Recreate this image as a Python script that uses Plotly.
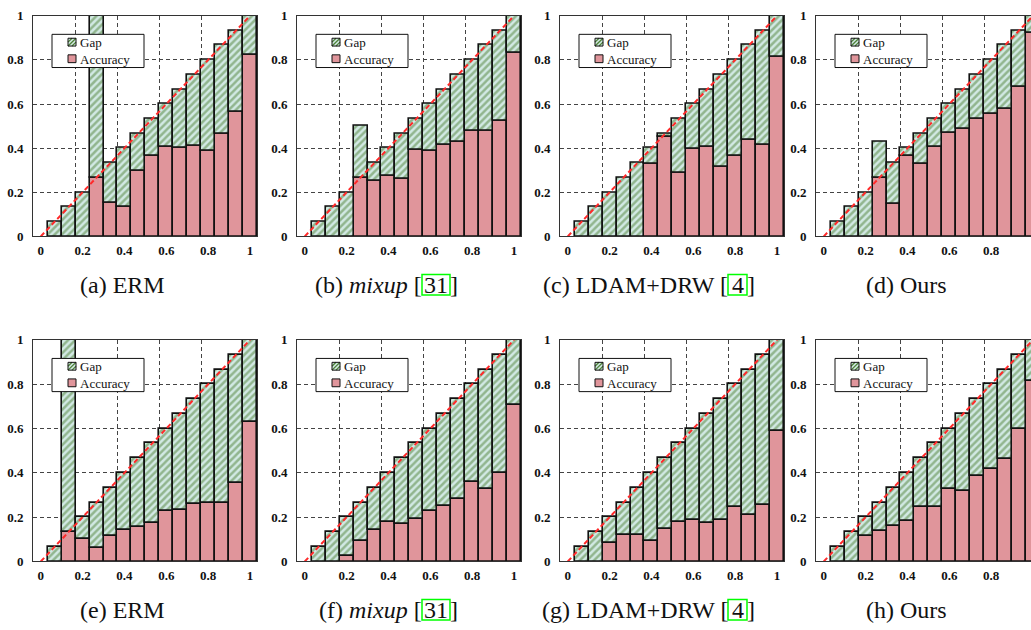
import plotly.graph_objects as go

W, H = 1031, 630

# ---------------- data ----------------
BIN_CENTERS = [0.0667, 0.1333, 0.2, 0.2667, 0.3333, 0.4, 0.4667, 0.5333,
               0.6, 0.6667, 0.7333, 0.8, 0.8667, 0.9333, 1.0]

# bar tops (outline height: confidence, or taller where the gap overshoots)
TOP_ERM_A = [0.0667, 0.1333, 0.2, 1.0, 0.3333, 0.4, 0.4667, 0.5333, 0.6, 0.6667, 0.7333, 0.8, 0.8667, 0.9333, 1.0]
TOP_MIXUP_B = [0.0667, 0.1333, 0.2, 0.5, 0.3333, 0.4, 0.4667, 0.5333, 0.6, 0.6667, 0.7333, 0.8, 0.8667, 0.9333, 1.0]
TOP_LDAM_C = [0.0667, 0.1333, 0.2, 0.2667, 0.3333, 0.4, 0.4667, 0.5333, 0.6, 0.6667, 0.7333, 0.8, 0.8667, 0.9333, 1.0]
TOP_OURS_D = [0.0667, 0.1333, 0.2, 0.43, 0.3333, 0.4, 0.4667, 0.5333, 0.6, 0.6667, 0.7333, 0.8, 0.8667, 0.9333, 1.0]
TOP_ERM_E = [0.0667, 1.0, 0.2, 0.2667, 0.3333, 0.4, 0.4667, 0.5333, 0.6, 0.6667, 0.7333, 0.8, 0.8667, 0.9333, 1.0]
TOP_MIXUP_F = [0.0667, 0.1333, 0.2, 0.2667, 0.3333, 0.4, 0.4667, 0.5333, 0.6, 0.6667, 0.7333, 0.8, 0.8667, 0.9333, 1.0]
TOP_LDAM_G = [0.0667, 0.1333, 0.2, 0.2667, 0.3333, 0.4, 0.4667, 0.5333, 0.6, 0.6667, 0.7333, 0.8, 0.8667, 0.9333, 1.0]
TOP_OURS_H = [0.0667, 0.1333, 0.2, 0.2667, 0.3333, 0.4, 0.4667, 0.5333, 0.6, 0.6667, 0.7333, 0.8, 0.8667, 0.9333, 1.0]

# accuracy per bin
ACC_ERM_A = [0, 0, 0, 0.267, 0.152, 0.133, 0.298, 0.364, 0.406, 0.401, 0.413, 0.388, 0.466, 0.565, 0.822]
ACC_MIXUP_B = [0, 0, 0, 0.266, 0.25, 0.276, 0.26, 0.394, 0.389, 0.417, 0.43, 0.477, 0.477, 0.523, 0.834]
ACC_LDAM_C = [0, 0, 0, 0, 0, 0.33, 0.451, 0.287, 0.396, 0.406, 0.315, 0.367, 0.44, 0.414, 0.816]
ACC_OURS_D = [0, 0, 0, 0.267, 0.15, 0.365, 0.331, 0.405, 0.468, 0.486, 0.533, 0.557, 0.577, 0.679, 0.922]
ACC_ERM_E = [0, 0.132, 0.1, 0.061, 0.114, 0.143, 0.157, 0.176, 0.23, 0.234, 0.259, 0.266, 0.266, 0.354, 0.63]
ACC_MIXUP_F = [0, 0, 0.026, 0.095, 0.143, 0.179, 0.168, 0.19, 0.227, 0.252, 0.281, 0.359, 0.329, 0.398, 0.707]
ACC_LDAM_G = [0, 0, 0.083, 0.12, 0.12, 0.095, 0.149, 0.18, 0.189, 0.173, 0.189, 0.245, 0.209, 0.255, 0.589]
ACC_OURS_H = [0, 0, 0.117, 0.139, 0.161, 0.184, 0.247, 0.246, 0.326, 0.318, 0.385, 0.416, 0.461, 0.597, 0.817]

TICK_VALS = [0, 0.2, 0.4, 0.6, 0.8, 1]
TICK_TEXT = ["0", "0.2", "0.4", "0.6", "0.8", "1"]
LEGEND_NAMES = ["Gap", "Accuracy"]

# caption pieces: (prefix, cite, suffix)
CAPTIONS = [
    ("(a) ERM", None, None),
    ("(b) <i>mixup</i> [", "31", "]"),
    ("(c) LDAM+DRW [", "4", "]"),
    ("(d) Ours", None, None),
    ("(e) ERM", None, None),
    ("(f) <i>mixup</i> [", "31", "]"),
    ("(g) LDAM+DRW [", "4", "]"),
    ("(h) Ours", None, None),
]

PANELS = [
    (ACC_ERM_A, TOP_ERM_A), (ACC_MIXUP_B, TOP_MIXUP_B), (ACC_LDAM_C, TOP_LDAM_C), (ACC_OURS_D, TOP_OURS_D),
    (ACC_ERM_E, TOP_ERM_E), (ACC_MIXUP_F, TOP_MIXUP_F), (ACC_LDAM_G, TOP_LDAM_G), (ACC_OURS_H, TOP_OURS_H),
]

# ---------------- style / layout ----------------
FONT = "Liberation Serif"
ACC_COLOR = "#e0959b"
GAP_BG = "#d2e9e4"
GAP_FG = "#4f8238"
EDGE = "#111111"

COL_LEFT = [33, 297, 560, 816]      # plot-area left edges (px)
PLOT_W = 224
ROW_TOP = [9, 341]
ROW_BOT = [235, 568]
X_RANGE = [-0.037, 1.0333]
PX_PER_UNIT = PLOT_W / (X_RANGE[1] - X_RANGE[0])

CAP_CENTER = [122, 382, 647, 906]
CITE_BOX = [None, (422, 450), (728, 747), None]
CAP_Y = [285, 618]
CITE_Y = [(274, 295), (607, 628)]

fig = go.Figure()
layout = dict(
    width=W, height=H, margin=dict(l=0, r=0, t=0, b=0),
    paper_bgcolor="white", plot_bgcolor="white",
    barmode="overlay", bargap=0, showlegend=False,
    font=dict(family=FONT, color="#111"),
)
shapes = []
annotations = []


def px_x(x):
    return x / W


def px_y(y):
    return 1 - y / H


def rect(x0, y0, x1, y1, **kw):
    d = dict(type="rect", xref="paper", yref="paper",
             x0=px_x(x0), x1=px_x(x1), y0=px_y(y1), y1=px_y(y0), layer="above")
    d.update(kw)
    return d


for i, (acc, top) in enumerate(PANELS):
    r, c = divmod(i, 4)
    n = "" if i == 0 else str(i + 1)
    xa, ya = "x" + n, "y" + n
    L = COL_LEFT[c]
    R = L + PLOT_W
    xr = list(X_RANGE)
    is_clipped = R > W
    if is_clipped:
        xr[1] = X_RANGE[0] + (W - L) / PX_PER_UNIT
        R = W
    T, B = ROW_TOP[r], ROW_BOT[r]

    fig.add_trace(go.Bar(
        x=BIN_CENTERS, y=acc, width=0.0667, xaxis=xa, yaxis=ya,
        name=LEGEND_NAMES[1],
        marker=dict(color=ACC_COLOR, line=dict(color=EDGE, width=1.6)),
        hoverinfo="skip"))
    fig.add_trace(go.Bar(
        x=BIN_CENTERS, y=[t - a for t, a in zip(top, acc)], base=acc, width=0.0667,
        xaxis=xa, yaxis=ya, name=LEGEND_NAMES[0],
        marker=dict(color=GAP_BG, line=dict(color=EDGE, width=1.6),
                    pattern=dict(shape="/", fgcolor=GAP_FG, bgcolor=GAP_BG,
                                 size=5, solidity=0.5)),
        hoverinfo="skip"))
    fig.add_trace(go.Scatter(
        x=[0, 1], y=[0, 1], mode="lines", xaxis=xa, yaxis=ya,
        line=dict(color="#ff2a2a", width=2, dash="5px,3px"), hoverinfo="skip"))

    grid = dict(showgrid=True, gridcolor="#444", griddash="4px,3px", gridwidth=1)
    layout["xaxis" + n] = dict(
        domain=[px_x(L), px_x(R)], anchor=ya, range=xr,
        tickmode="array", tickvals=TICK_VALS, ticktext=TICK_TEXT,
        showgrid=False, zeroline=False,
        showline=True, linecolor="#333", linewidth=1, mirror=True,
        ticks="", ticklabelstandoff=2,
        tickfont=dict(family=FONT, size=13, weight="bold", color="#111"),
        minor=dict(tickmode="array", tickvals=[0.1667, 0.3667, 0.5667, 0.7667], ticks="", **grid),
    )
    layout["yaxis" + n] = dict(
        domain=[px_y(B), px_y(T)], anchor=xa, range=[0, 1],
        tickmode="array", tickvals=TICK_VALS, ticktext=TICK_TEXT,
        showgrid=False, zeroline=False,
        showline=True, linecolor="#333", linewidth=1, mirror=not is_clipped,
        ticks="", ticklabelstandoff=6,
        tickfont=dict(family=FONT, size=13, weight="bold", color="#111"),
        minor=dict(tickmode="array", tickvals=[0.2, 0.4, 0.6, 0.8], ticks="", **grid),
    )

    # ---- legend box (drawn per panel) ----
    bx0, by0 = L + 19, T + 19
    shapes.append(rect(bx0, by0, bx0 + 92, by0 + 34, fillcolor="white",
                       line=dict(color="#111", width=1)))
    # gap swatch
    sx, sy = bx0 + 16, by0 + 4
    shapes.append(rect(sx, sy, sx + 8, sy + 8, fillcolor=GAP_BG, line=dict(width=0)))
    path = (f"M {px_x(sx)},{px_y(sy + 4)} L {px_x(sx + 4)},{px_y(sy)} "
            f"M {px_x(sx)},{px_y(sy + 8)} L {px_x(sx + 8)},{px_y(sy)} "
            f"M {px_x(sx + 4)},{px_y(sy + 8)} L {px_x(sx + 8)},{px_y(sy + 4)}")
    shapes.append(dict(type="path", xref="paper", yref="paper", path=path,
                       line=dict(color=GAP_FG, width=1.3), layer="above"))
    shapes.append(rect(sx, sy, sx + 8, sy + 8, line=dict(color="#111", width=1)))
    # accuracy swatch
    ay = by0 + 21
    shapes.append(rect(sx, ay, sx + 8, ay + 8, fillcolor=ACC_COLOR,
                       line=dict(color="#111", width=1)))
    for name, cy in ((LEGEND_NAMES[0], by0 + 8.5), (LEGEND_NAMES[1], by0 + 25.5)):
        annotations.append(dict(
            text=name, xref="paper", yref="paper", x=px_x(bx0 + 26), y=px_y(cy),
            xanchor="left", yanchor="middle", showarrow=False,
            font=dict(family=FONT, size=13, color="#111")))

    # ---- caption ----
    pre, cite, suf = CAPTIONS[i]
    cfont = dict(family=FONT, size=24, color="#111")
    if cite is None:
        annotations.append(dict(
            text=pre, xref="paper", yref="paper", x=px_x(CAP_CENTER[c]), y=px_y(CAP_Y[r]),
            xanchor="center", yanchor="middle", showarrow=False, font=cfont))
    else:
        cx0, cx1 = CITE_BOX[c]
        cy0, cy1 = CITE_Y[r]
        annotations.append(dict(
            text=pre, xref="paper", yref="paper", x=px_x(cx0 + 1), y=px_y(CAP_Y[r]),
            xanchor="right", yanchor="middle", showarrow=False, font=cfont, borderpad=0))
        annotations.append(dict(
            text=cite, xref="paper", yref="paper", x=px_x((cx0 + cx1) / 2), y=px_y(CAP_Y[r]),
            xanchor="center", yanchor="middle", showarrow=False, font=cfont, borderpad=0))
        annotations.append(dict(
            text=suf, xref="paper", yref="paper", x=px_x(cx1 - 1), y=px_y(CAP_Y[r]),
            xanchor="left", yanchor="middle", showarrow=False, font=cfont, borderpad=0))
        shapes.append(rect(cx0, cy0, cx1, cy1, line=dict(color="#00ff00", width=1.5)))

layout["shapes"] = shapes
layout["annotations"] = annotations
fig.update_layout(**layout)
fig.write_html("out.html")
